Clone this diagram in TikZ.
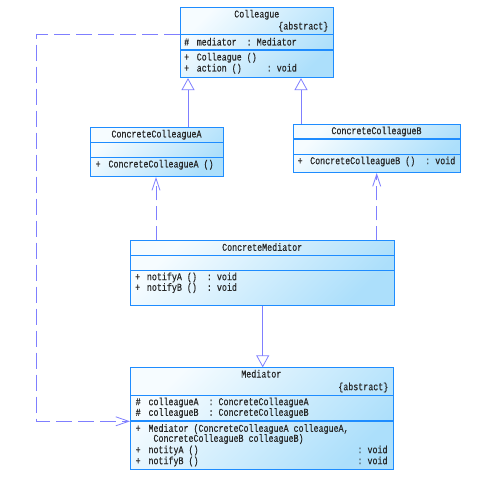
\documentclass[tikz,border=0pt]{standalone}
\usepackage{fontspec}
\newfontfamily\umlfont[FakeStretch=0.794, FakeBold=0.4]{Liberation Mono}
\usetikzlibrary{arrows.meta}
\definecolor{boxline}{HTML}{1E8CFF}
\definecolor{boxlight}{HTML}{F6FCFF}
\definecolor{boxdark}{HTML}{ACDFFB}
\definecolor{conn}{HTML}{7F7FFF}
\tikzset{
  cbox/.style={draw=boxline, line width=1.1pt, top color=boxlight, bottom color=boxdark,
    shading angle=45, anchor=north west, inner sep=0pt},
  sep/.style={draw=boxline, line width=1.1pt},
  txt/.style={font=\umlfont\fontsize{10.5}{12}\selectfont, text=black!85, inner sep=0pt, text height=6.8pt, text depth=1.8pt, anchor=west},
  ttl/.style={txt, anchor=center},
  abs/.style={txt, anchor=east},
  gen/.style={draw=conn, line width=0.8pt, -{Triangle[open, length=12pt, width=13pt]}},
  dep/.style={draw=conn, line width=0.8pt, dash pattern=on 14pt off 6pt, -{Straight Barb[length=12pt, width=8pt]}},
  assoc/.style={draw=conn, line width=0.8pt, dash pattern=on 16pt off 6pt, -{Straight Barb[length=13pt, width=9pt]}},
}
\begin{document}
\begin{tikzpicture}[x=1pt, y=-1pt]
\useasboundingbox (0,0) rectangle (482,486);

% ---------- Colleague ----------
\node[cbox, minimum width=153pt, minimum height=70pt] (col) at (180,7) {};
\draw[sep] (col.west |- 0,34.5) -- (col.east |- 0,34.5);
\draw[sep] (col.west |- 0,50) -- (col.east |- 0,50);
\node[ttl] (colT) at (256.8,15) {Colleague};
\node[abs] (colA) at (328.5,27) {\{abstract\}};
\node[txt] (colS1) at (184,43) {\#};
\node[txt] (colM1) at (196.5,43) {mediator~~:~Mediator};
\node[txt] (colS2) at (184,58) {+};
\node[txt] (colM2) at (196.5,58) {Colleague~()};
\node[txt] (colS3) at (184,69) {+};
\node[txt] (colM3) at (196.5,69) {action~()~~~~~:~void};

% ---------- ConcreteColleagueA ----------
\node[cbox, minimum width=133pt, minimum height=49pt] (cca) at (90,127) {};
\draw[sep] (cca.west |- 0,142.3) -- (cca.east |- 0,142.3);
\draw[sep] (cca.west |- 0,157.3) -- (cca.east |- 0,157.3);
\node[ttl] (ccaT) at (156.5,135) {ConcreteColleagueA};
\node[txt] (ccaS1) at (95.5,165) {+};
\node[txt] (ccaM1) at (108.3,165) {ConcreteColleagueA~()};

% ---------- ConcreteColleagueB ----------
\node[cbox, minimum width=167pt, minimum height=48pt] (ccb) at (293,124) {};
\draw[sep] (ccb.west |- 0,139) -- (ccb.east |- 0,139);
\draw[sep] (ccb.west |- 0,154.3) -- (ccb.east |- 0,154.3);
\node[ttl] (ccbT) at (376.5,131.7) {ConcreteColleagueB};
\node[txt] (ccbS1) at (297.5,161.7) {+};
\node[txt] (ccbM1) at (310,161.7) {ConcreteColleagueB~()~~:~void};

% ---------- ConcreteMediator ----------
\node[cbox, minimum width=264.3pt, minimum height=65pt] (cm) at (130,240.3) {};
\draw[sep] (cm.west |- 0,255.7) -- (cm.east |- 0,255.7);
\draw[sep] (cm.west |- 0,270.7) -- (cm.east |- 0,270.7);
\node[ttl] (cmT) at (262.2,248.3) {ConcreteMediator};
\node[txt] (cmS1) at (135,277.7) {+};
\node[txt] (cmM1) at (146.7,277.7) {notifyA~()~~:~void};
\node[txt] (cmS2) at (135,288.3) {+};
\node[txt] (cmM2) at (146.7,288.3) {notifyB~()~~:~void};

% ---------- Mediator ----------
\node[cbox, minimum width=262.7pt, minimum height=101.7pt] (med) at (130,367.3) {};
\draw[sep] (med.west |- 0,395.7) -- (med.east |- 0,395.7);
\draw[sep] (med.west |- 0,421) -- (med.east |- 0,421);
\node[ttl] (medT) at (261.3,375) {Mediator};
\node[abs] (medA) at (388.5,387.7) {\{abstract\}};
\node[txt] (medS1) at (135.5,402.7) {\#};
\node[txt] (medM1) at (148.3,402.7) {colleagueA~~:~ConcreteColleagueA};
\node[txt] (medS2) at (135.5,413.3) {\#};
\node[txt] (medM2) at (148.3,413.3) {colleagueB~~:~ConcreteColleagueB};
\node[txt] (medS3) at (135.5,429.3) {+};
\node[txt] (medM3) at (148.3,429.3) {Mediator~(ConcreteColleagueA~colleagueA,};
\node[txt] (medM3b) at (153.3,439.3) {ConcreteColleagueB~colleagueB)};
\node[txt] (medS4) at (135.5,450.7) {+};
\node[txt] (medM4) at (148.3,450.7) {notityA~()};
\node[txt] (medR4) at (357.3,450.7) {:~void};
\node[txt] (medS5) at (135.5,461.7) {+};
\node[txt] (medM5) at (148.3,461.7) {notifyB~()};
\node[txt] (medR5) at (357.3,461.7) {:~void};

% ---------- Connectors ----------
\draw[gen] ([xshift=98pt]cca.north west) -- ([xshift=98pt]cca.north west |- col.south);
\draw[gen] ([xshift=8pt]ccb.north west) -- ([xshift=8pt]ccb.north west |- col.south);
\draw[dep] ([xshift=26pt]cm.north west) -- ([xshift=26pt]cm.north west |- cca.south);
\draw[dep] ([xshift=246.7pt]cm.north west) -- ([xshift=246.7pt]cm.north west |- ccb.south);
\draw[gen] (cm.south) -- (cm.south |- med.north);
\coordinate (k1) at (36.7,34);
\coordinate (k2) at (36.7,421.3);
\draw[assoc] (col.west |- k1) -- (k1) -- (k2) -- (med.west |- k2);
\end{tikzpicture}
\end{document}
